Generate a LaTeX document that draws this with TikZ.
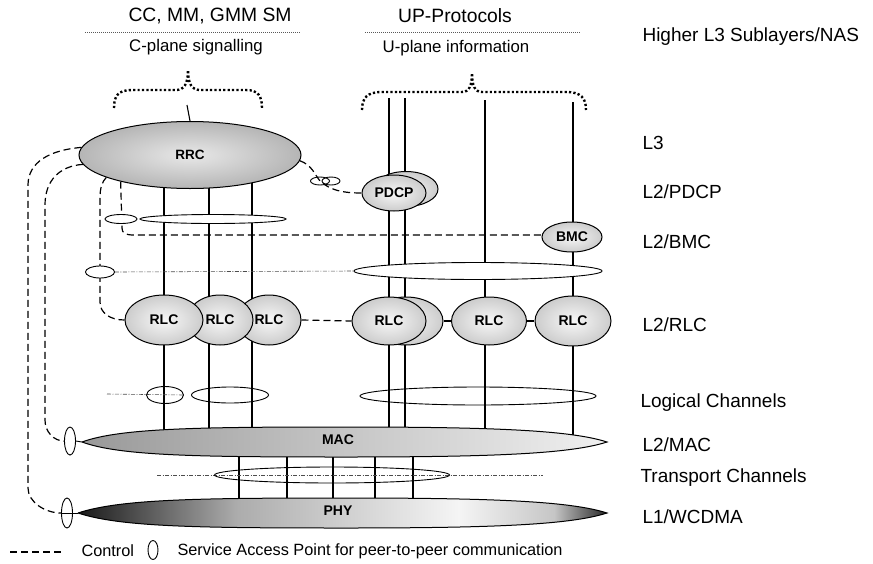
\documentclass[tikz,border=0pt]{standalone}
\usepackage{fontspec}
\setmainfont{Liberation Sans}
\usetikzlibrary{shapes.geometric,backgrounds}

\pgfdeclarehorizontalshading{macshade}{100bp}{color(0bp)=(gray!80); color(25bp)=(gray!80); color(50bp)=(gray!45); color(75bp)=(gray!12); color(100bp)=(gray!12)}
\pgfdeclarehorizontalshading{physhade}{100bp}{color(0bp)=(black!90); color(25bp)=(black!90); color(40bp)=(gray!65); color(61bp)=(gray!8); color(70bp)=(gray!45); color(75bp)=(black!85); color(100bp)=(black!85)}

\begin{document}
\begin{tikzpicture}[x=1pt, y=-1pt,
  ent/.style={ellipse, draw, line width=1pt, inner sep=0pt, inner color=gray!6, outer color=gray!40, font=\fontsize{14}{14}\selectfont\bfseries},
  sap/.style={ellipse, draw, line width=0.9pt, fill=white, inner sep=0pt},
  chan/.style={ellipse, draw, line width=0.9pt, inner sep=0pt},
  vline/.style={line width=1.1pt},
  ctrl/.style={dash pattern=on 7pt off 4pt, line width=1.2pt},
  dotrule/.style={dash pattern=on 1pt off 1pt, line width=0.6pt, gray!70!black},
  dashdot/.style={dash pattern=on 4pt off 1.5pt on 1pt off 1.5pt, line width=0.6pt, gray!60!black},
  brace/.style={dash pattern=on 2.2pt off 2.2pt, line width=2.4pt},
  lyr/.style={anchor=west, font=\fontsize{19}{19}\selectfont},
  head/.style={font=\fontsize{19.3}{19.3}\selectfont},
  sub/.style={font=\fontsize{16.8}{16.8}\selectfont},
  lgd/.style={anchor=west, font=\fontsize{16.3}{16.3}\selectfont}]
  \useasboundingbox (0,0) rectangle (873,563);
  % headings
  \node[head] (cphead) at (210,16) {CC, MM, GMM SM};
  \node[sub]  (cpsub)  at (196,47) {C-plane signalling};
  \node[head] (uphead) at (455,16) {UP-Protocols};
  \node[sub]  (upsub)  at (456,48) {U-plane information};
  \draw[dotrule] (85,32) -- (300,32);
  \draw[dotrule] (365,32) -- (580,32);
  \draw[brace] (114,108) .. controls (114,96) and (118,90) .. (132,90) -- (176,90)
    .. controls (184,90) and (188,84) .. (188,70) .. controls (188,84) and (192,90) .. (200,90)
    -- (246,90) .. controls (258,90) and (262,96) .. (262,108);
  \draw[brace] (362,110) .. controls (362,98) and (367,92) .. (382,92) -- (462,92)
    .. controls (469,92) and (472,86) .. (472,73) .. controls (472,86) and (475,92) .. (482,92)
    -- (566,92) .. controls (581,92) and (586,98) .. (586,110);
  % layer names
  \node[lyr] (nas)    at (639,37)  {Higher L3 Sublayers/NAS};
  \node[lyr] (l3)     at (639,143) {L3};
  \node[lyr] (l2pdcp) at (639,192) {L2/PDCP};
  \node[lyr] (l2bmc)  at (639,242) {L2/BMC};
  \node[lyr] (l2rlc)  at (639,325) {L2/RLC};
  \node[lyr] (logch)  at (637,403) {Logical Channels};
  \node[lyr] (l2mac)  at (639,445) {L2/MAC};
  \node[lyr] (trch)   at (637,478) {Transport Channels};
  \node[lyr] (l1)     at (639,517) {L1/WCDMA};
  % L3
  \node[ent, minimum width=222pt, minimum height=67pt, inner color=gray!18, outer color=gray!58, font=\fontsize{13.5}{13.5}\selectfont\bfseries] (rrc) at (190,155) {RRC};
  % PDCP and BMC
  \node[ent, minimum width=64pt, minimum height=35pt] (pdcpB) at (406,189) {};
  \node[ent, minimum width=64pt, minimum height=36pt] (pdcp) at (394,193) {PDCP};
  \node[ent, minimum width=60pt, minimum height=30pt] (bmc) at (572,237) {BMC};
  % SAPs between layers
  \node[sap, minimum width=32pt, minimum height=9pt] (sapB) at (121,219) {};
  \node[sap, minimum width=146pt, minimum height=9pt] (sapRB) at (213,219) {};
  \node[sap, minimum width=29pt, minimum height=12pt] (sapR) at (100,272) {};
  \node[sap, minimum width=248pt, minimum height=17pt] (sapU) at (478,271) {};
  \node[chan, minimum width=19pt, minimum height=8pt] (sapPa) at (320,181) {};
  \node[chan, minimum width=18pt, minimum height=8pt] (sapPb) at (331,181) {};
  % RLC
  \node[ent, minimum width=64pt, minimum height=50pt] (rlcC) at (269,320) {RLC};
  \node[ent, minimum width=66pt, minimum height=50pt] (rlcB) at (220,320) {RLC};
  \node[ent, minimum width=78pt, minimum height=50pt] (rlcA) at (164,320) {RLC};
  \node[ent, minimum width=74pt, minimum height=48pt] (urlcB) at (406,321) {};
  \node[ent, minimum width=74pt, minimum height=48pt] (urlcA) at (389,321) {RLC};
  \node[ent, minimum width=75pt, minimum height=48pt] (urlcC) at (489,321) {RLC};
  \node[ent, minimum width=76pt, minimum height=50pt] (urlcD) at (573,321) {RLC};
  % logical and transport channels
  \node[chan, minimum width=37pt, minimum height=17pt] (lchA) at (165,395) {};
  \node[chan, minimum width=77pt, minimum height=16pt] (lchB) at (230,395) {};
  \node[chan, minimum width=236pt, minimum height=18pt] (lchU) at (478,396) {};
  \node[chan, minimum width=235pt, minimum height=16pt] (tch) at (332,475) {};
  % MAC and PHY
  \coordinate (macL) at (82,442);
  \coordinate (phyL) at (78,513);
  \shadedraw[line width=1pt, shading=macshade]
    (macL) .. controls (120,428) and (200,427) .. (345,427) .. controls (490,427) and (570,430) .. (607,442)
    .. controls (570,454) and (490,457) .. (345,457) .. controls (200,457) and (120,456) .. (macL);
  \shadedraw[line width=1pt, shading=physhade]
    (phyL) .. controls (120,499) and (200,498) .. (345,498) .. controls (490,498) and (570,501) .. (607,513)
    .. controls (570,525) and (490,528) .. (345,528) .. controls (200,528) and (120,527) .. (phyL);
  \node[font=\fontsize{14}{14}\selectfont\bfseries] (mac) at (338,440) {MAC};
  \node[font=\fontsize{14}{14}\selectfont\bfseries] (phy) at (338,511) {PHY};
  \node[sap, minimum width=11pt, minimum height=28pt] (sapM) at (70,441) {};
  \node[sap, minimum width=11pt, minimum height=30pt] (sapP) at (67,513) {};
  \draw[line width=0.9pt] (sapM.east) -- (macL);
  \draw[line width=0.9pt] (sapP.west) -- (phyL);
  % channels and control, behind the entities
  \begin{scope}[on background layer]
    \draw[vline] (187,105) -- (rrc.north);
    \foreach \x in {164,209,252} \draw[vline] (\x,160) -- (\x,442);
    \foreach \x in {389,405} \draw[vline] (\x,98) -- (\x,442);
    \draw[vline] (485,100) -- (485,442);
    \draw[vline] (573,102) -- (573,442);
    \foreach \x in {239,287,333,375,413} \draw[vline] (\x,442) -- (\x,513);
    \draw[dashdot] (sapR.east) -- (sapU.west);
    \draw[dashdot] (107,394) -- (lchA.east);
    \draw[dashdot] (157,475) -- (543,475);
    \draw[ctrl] (rrc.176) .. controls (50,150) and (28,162) .. (28,185) -- (28,488)
      .. controls (28,502) and (45,513) .. (sapP.west);
    \draw[ctrl] (rrc.185) .. controls (60,166) and (45,180) .. (45,205) -- (45,420)
      .. controls (45,432) and (54,441) .. (sapM.west);
    \draw[ctrl] (rrc.195) .. controls (102,182) and (100,188) .. (100,198) -- (100,302)
      .. controls (100,313) and (110,320) .. (rlcA.west);
    \draw[ctrl] (rrc.201) -- (122,228) .. controls (122,233) and (125,235) .. (134,235) -- (bmc.west |- 0,235);
    \draw[ctrl] (rrc.-3) .. controls (312,165) and (315,175) .. (sapPa.center)
      .. controls (330,190) and (342,193) .. (pdcp.west);
    \draw[ctrl] (rlcC.east) -- (urlcA.west);
    \draw[ctrl] (urlcB.east) -- (urlcC.west);
    \draw[ctrl] (urlcC.east) -- (urlcD.west);
  \end{scope}
  % legend
  \coordinate (lgA) at (10,552);
  \coordinate (lgB) at (63,552);
  \draw[ctrl] (lgA) -- (lgB);
  \node[lgd] (lgctrl) at (78,551) {Control};
  \node[sap, minimum width=10pt, minimum height=19pt] (lgsap) at (153,550) {};
  \node[lgd] (lgsaptxt) at (174,551) {Service Access Point for peer-to-peer communication};
\end{tikzpicture}
\end{document}
